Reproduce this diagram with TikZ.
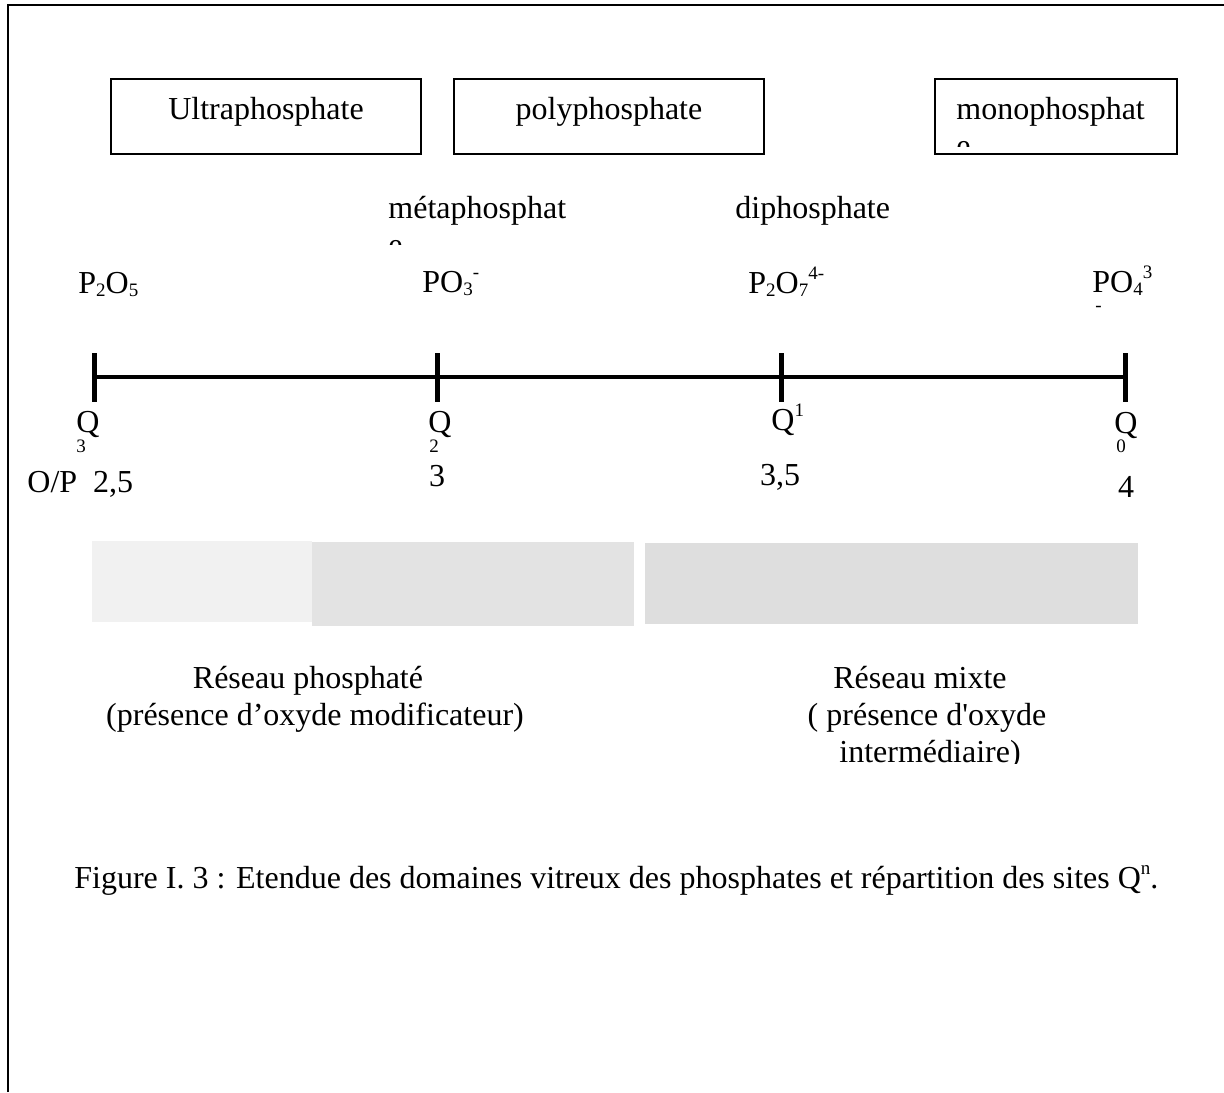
\documentclass[tikz,border=0pt]{standalone}
\usepackage{fontspec}
\setmainfont{Liberation Serif}
\usetikzlibrary{positioning}
\definecolor{barA}{HTML}{F1F1F1}
\definecolor{barB}{HTML}{E3E3E3}
\definecolor{barC}{HTML}{DEDEDE}
\newcommand\lowidx[1]{\raisebox{-0.1em}{\fontsize{9.5}{10}\selectfont #1}}
\newcommand\highidx[1]{\raisebox{0.42em}{\fontsize{9.5}{10}\selectfont #1}}

\begin{document}
\begin{tikzpicture}[x=0.5pt,y=-0.5pt,
  every node/.style={inner sep=0pt,font=\fontsize{16}{18.5}\selectfont},
  phbox/.style={draw,line width=1pt,minimum width=155pt,minimum height=37.5pt},
  axtick/.style={line width=2.5pt},
  idx/.style={font=\fontsize{9.5}{10}\selectfont}]
  \useasboundingbox (0,0) rectangle (1224,1092);
  % frame
  \draw[line width=1.2pt] (8,1092) -- (8,5) -- (1224,5);
  % domain boxes
  \node[phbox] (ultra) at (266,116.5) {};
  \node[phbox] (poly) at (609,116.5) {};
  \node[phbox,minimum width=121pt] (mono) at (1056,116.5) {};
  \node[anchor=base] (ultratxt) at (266,119.5) {Ultraphosphate};
  \node[anchor=base] (polytxt) at (609,119.5) {polyphosphate};
  \begin{scope}
    \clip (mono.north west) rectangle ([yshift=4.5pt]mono.south east);
    \node[anchor=base west] (monotxt) at (956,119.5) {monophosphat};
    \node[anchor=base west] (monoe) at (956,156.5) {e};
  \end{scope}
  \begin{scope}
    \clip (380,180) rectangle (600,244);
    \node[anchor=base west] (meta) at (388,218) {métaphosphat};
    \node[anchor=base west] (metae) at (388,255) {e};
  \end{scope}
  \node[anchor=base west] (diph) at (735,218) {diphosphate};
  % formulas
  \node[anchor=base west] (p2o5) at (78,293) {P\lowidx{2}O\lowidx{5}};
  \node[anchor=base west] (po3) at (422,292) {PO\lowidx{3}\highidx{-}};
  \node[anchor=base west] (p2o7) at (748,293) {P\lowidx{2}O\lowidx{7}\highidx{4-}};
  \node[anchor=base west] (po4) at (1092,292) {PO\lowidx{4}\highidx{3}};
  \node[idx,anchor=west] (po4minus) at (1095,309) {-};
  % O/P axis
  \coordinate (t0) at (94,377);
  \coordinate (t1) at (437,377);
  \coordinate (t2) at (781,377);
  \coordinate (t3) at (1125,377);
  \draw[line width=2pt] (t0) -- (t3);
  \foreach \t in {t0,t1,t2,t3}
    \draw[axtick] ([yshift=12pt]\t) -- ([yshift=-12.5pt]\t);
  % Q sites
  \node[anchor=base] (q3) at (88,432) {Q};
  \node[idx,anchor=base] (q3n) at (81,452) {3};
  \node[anchor=base] (q2) at (440,432) {Q};
  \node[idx,anchor=base] (q2n) at (434,452) {2};
  \node[anchor=base west] (q1) at (771,430) {Q\highidx{1}};
  \node[anchor=base] (q0) at (1126,433) {Q};
  \node[idx,anchor=base] (q0n) at (1121,452) {0};
  % O/P values
  \node[anchor=base west] (op) at (27,492) {O/P\ \ 2,5};
  \node[anchor=base] (op3) at (437,486) {3};
  \node[anchor=base] (op35) at (780,485) {3,5};
  \node[anchor=base] (op4) at (1126,497) {4};
  % glass domains
  \fill[barA] (92,541) rectangle (312,622);
  \fill[barB] (312,542) rectangle (634,626);
  \fill[barC] (645,543) rectangle (1138,624);
  \node[anchor=base] (phos1) at (308,688) {Réseau phosphaté};
  \node[anchor=base] (phos2) at (315,725) {(présence d’oxyde modificateur)};
  \node[anchor=base] (mix1) at (920,688) {Réseau mixte};
  \node[anchor=base] (mix2) at (927,725) {( présence d\textquotesingle oxyde};
  \begin{scope}
    \clip (800,735) rectangle (1060,763);
    \node[anchor=base] (mix3) at (930,762) {intermédiaire)};
  \end{scope}
  % caption
  \node[anchor=base west] (cap) at (74,888) {Figure I. 3 : Etendue des domaines vitreux des phosphates et répartition des sites Q\highidx{n}.};
\end{tikzpicture}
\end{document}
